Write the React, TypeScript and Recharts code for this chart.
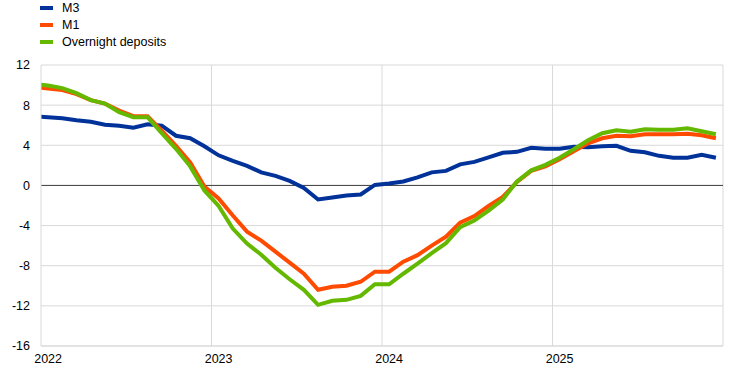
import { LineChart, Line, XAxis, YAxis, CartesianGrid, ReferenceLine } from "recharts"

// monthly, Dec 2021 .. Dec 2025 (first point sits half a month before the axis start and is clipped)
const months = [
  "2021-12",
  "2022-01", "2022-02", "2022-03", "2022-04", "2022-05", "2022-06", "2022-07", "2022-08", "2022-09", "2022-10", "2022-11", "2022-12",
  "2023-01", "2023-02", "2023-03", "2023-04", "2023-05", "2023-06", "2023-07", "2023-08", "2023-09", "2023-10", "2023-11", "2023-12",
  "2024-01", "2024-02", "2024-03", "2024-04", "2024-05", "2024-06", "2024-07", "2024-08", "2024-09", "2024-10", "2024-11", "2024-12",
  "2025-01", "2025-02", "2025-03", "2025-04", "2025-05", "2025-06", "2025-07", "2025-08", "2025-09", "2025-10", "2025-11", "2025-12",
]

const m3 = [
  6.9,
  6.8, 6.7, 6.5, 6.35, 6.05, 5.95, 5.75, 6.1, 5.95, 4.95, 4.7, 3.9,
  3.0, 2.45, 1.95, 1.3, 0.95, 0.45, -0.25, -1.4, -1.2, -1.0, -0.9, 0.05,
  0.2, 0.4, 0.8, 1.3, 1.45, 2.1, 2.35, 2.8, 3.25, 3.35, 3.75, 3.65,
  3.65, 3.85, 3.8, 3.9, 3.95, 3.45, 3.3, 2.95, 2.75, 2.75, 3.05, 2.75,
]

const m1 = [
  9.8,
  9.65, 9.5, 9.1, 8.5, 8.15, 7.45, 6.9, 6.9, 5.45, 3.95, 2.3, -0.1,
  -1.3, -3.0, -4.6, -5.5, -6.6, -7.7, -8.8, -10.4, -10.1, -10.0, -9.6, -8.6,
  -8.6, -7.6, -6.95, -6.0, -5.1, -3.7, -3.05, -2.05, -1.15, 0.35, 1.45, 1.9,
  2.6, 3.4, 4.2, 4.7, 4.95, 4.9, 5.1, 5.1, 5.1, 5.15, 5.0, 4.7,
]

const overnight = [
  10.1,
  9.95, 9.7, 9.2, 8.5, 8.15, 7.3, 6.8, 6.8, 5.2, 3.65, 1.9, -0.5,
  -2.05, -4.3, -5.8, -6.9, -8.2, -9.35, -10.4, -11.9, -11.5, -11.4, -11.0, -9.85,
  -9.85, -8.8, -7.8, -6.75, -5.75, -4.15, -3.5, -2.5, -1.4, 0.4, 1.5, 2.05,
  2.75, 3.6, 4.5, 5.2, 5.5, 5.35, 5.6, 5.55, 5.55, 5.7, 5.4, 5.1,
]

const years = ["2022", "2023", "2024", "2025"]
const yTicks = [-16, -12, -8, -4, 0, 4, 8, 12]

const series = [
  { key: "m3", name: "M3", color: "#003299" },
  { key: "m1", name: "M1", color: "#ff4b00" },
  { key: "od", name: "Overnight deposits", color: "#65b800" },
]

// x = months since Jan 2022, points placed mid-month
const data = months.map((m, i) => ({
  month: m,
  x: i - 0.5,
  m3: m3[i],
  m1: m1[i],
  od: overnight[i],
}))

const font = '"Liberation Sans", Arial, sans-serif'
const grid = "#d9d9d9"

export default function App() {
  return (
    <div style={{ position: "relative", width: 744, height: 371, fontFamily: font }}>
      <style>{"body{margin:0}"}</style>

      <div style={{ position: "absolute", left: 40, top: 0, fontSize: 12.5, color: "#000", zIndex: 2 }}>
        {series.map((s) => (
          <div key={s.key} style={{ display: "flex", alignItems: "center", height: 16.7 }}>
            <span style={{ display: "inline-block", width: 13, height: 4, background: s.color, marginRight: 9 }} />
            <span>{s.name}</span>
          </div>
        ))}
      </div>

      <LineChart width={744} height={371} data={data} margin={{ top: 65, right: 21, bottom: 0, left: 0 }}>
        <CartesianGrid vertical={false} stroke={grid} />
        <XAxis
          dataKey="x"
          type="number"
          domain={[0, 48]}
          allowDataOverflow
          ticks={[0.5, 12.5, 24.5, 36.5]}
          tickFormatter={(v: number) => years[Math.floor(v / 12)]}
          tickLine={false}
          height={25}
          axisLine={{ stroke: grid }}
          tick={{ fill: "#000", fontSize: 12.5, fontFamily: font }}
        />
        <YAxis
          type="number"
          domain={[-16, 12]}
          ticks={yTicks}
          width={41}
          tickLine={false}
          tickMargin={5}
          axisLine={{ stroke: grid }}
          tick={{ fill: "#000", fontSize: 12.5, fontFamily: font }}
        />
        {[12, 24, 36, 48].map((v) => (
          <ReferenceLine key={v} x={v} stroke={grid} />
        ))}
        <ReferenceLine y={0} stroke="#404040" />
        {series.map((s) => (
          <Line
            key={s.key}
            type="linear"
            dataKey={s.key}
            name={s.name}
            stroke={s.color}
            strokeWidth={4}
            dot={false}
            activeDot={false}
            isAnimationActive={false}
          />
        ))}
      </LineChart>
    </div>
  )
}
